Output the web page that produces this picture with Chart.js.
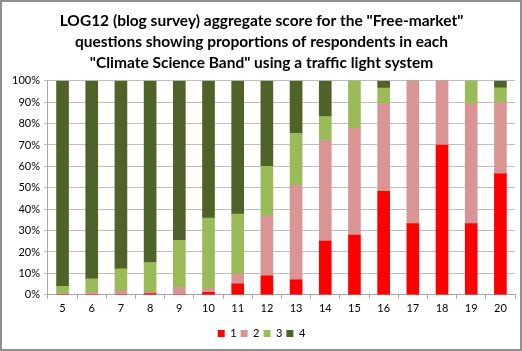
<!DOCTYPE html>
<html>
<head>
<meta charset="utf-8">
<script src="https://cdn.jsdelivr.net/npm/chart.js@4/dist/chart.umd.min.js"></script>
<style>
  html, body { margin: 0; padding: 0; background: #fff; }
  .frame {
    width: 522px; height: 351px; box-sizing: border-box;
    border: 2px solid #8f8f8f; position: relative;
  }
  canvas { display: block; }
</style>
</head>
<body>
<div class="frame"><canvas id="chart" width="518" height="347"></canvas></div>
<script>
/* categories: climate science band score */
const bands = ['5','6','7','8','9','10','11','12','13','14','15','16','17','18','19','20'];

/* share of respondents (%) per traffic-light score */
const score1 = [0, 0, 0, 0.6, 0, 1.1, 5.1, 8.9, 7, 25.1, 27.9, 48.3, 33.3, 70, 33.3, 56.5];
const score2 = [0.5, 1, 1.9, 0.4, 3.4, 1.7, 4.7, 28, 44.2, 47, 50, 41.1, 66.7, 30, 56, 33.4];
const score3 = [3.5, 6.5, 10.2, 14.1, 22.1, 33, 27.9, 23.1, 24.3, 11.2, 22.1, 7.2, 0, 0, 10.7, 6.8];
const score4 = [96, 92.5, 87.9, 84.9, 74.5, 64.2, 62.3, 40, 24.5, 16.7, 0, 3.4, 0, 0, 0, 3.3];

const titleLines = [
  'LOG12 (blog survey) aggregate score for the "Free-market"',
  'questions showing proportions of respondents in each',
  '"Climate Science Band" using a traffic light system'
];

const FONT = 'Lato, "Open Sans", sans-serif';

function bar(label, data, color) {
  return {
    label,
    data,
    backgroundColor: color,
    borderWidth: 0,
    barThickness: 12,
  };
}

new Chart(document.getElementById('chart'), {
  type: 'bar',
  data: {
    labels: bands,
    datasets: [
      bar('1', score1, '#ff0000'),
      bar('2', score2, '#d99594'),
      bar('3', score3, '#9bbb59'),
      bar('4', score4, '#4f6228'),
    ],
  },
  options: {
    responsive: false,
    animation: false,
    layout: { padding: { left: 6, right: 5, top: 5, bottom: 0 } },
    plugins: {
      title: {
        display: true,
        text: titleLines,
        color: '#000',
        font: { family: FONT, size: 15.5, weight: 'bold', lineHeight: 1.35 },
        padding: { top: 4, bottom: 7 },
      },
      legend: {
        position: 'bottom',
        labels: {
          color: '#000',
          boxWidth: 7,
          boxHeight: 7,
          padding: 4,
          font: { family: FONT, size: 11 },
        },
      },
      tooltip: { enabled: false },
    },
    scales: {
      x: {
        stacked: true,
        grid: { drawOnChartArea: false, color: '#a6a6a6', tickLength: 4 },
        border: { color: '#a6a6a6' },
        ticks: { color: '#000', font: { family: FONT, size: 11 }, padding: 3 },
        // extra room between the band labels and the legend
        afterFit: scale => { scale.height += 6; },
      },
      y: {
        stacked: true,
        min: 0,
        max: 100,
        grid: { color: '#bfbfbf', tickLength: 4 },
        border: { color: '#a6a6a6' },
        ticks: {
          stepSize: 10,
          color: '#000',
          font: { family: FONT, size: 11 },
          padding: 4,
          callback: v => v + '%',
        },
      },
    },
  },
});
</script>
</body>
</html>
